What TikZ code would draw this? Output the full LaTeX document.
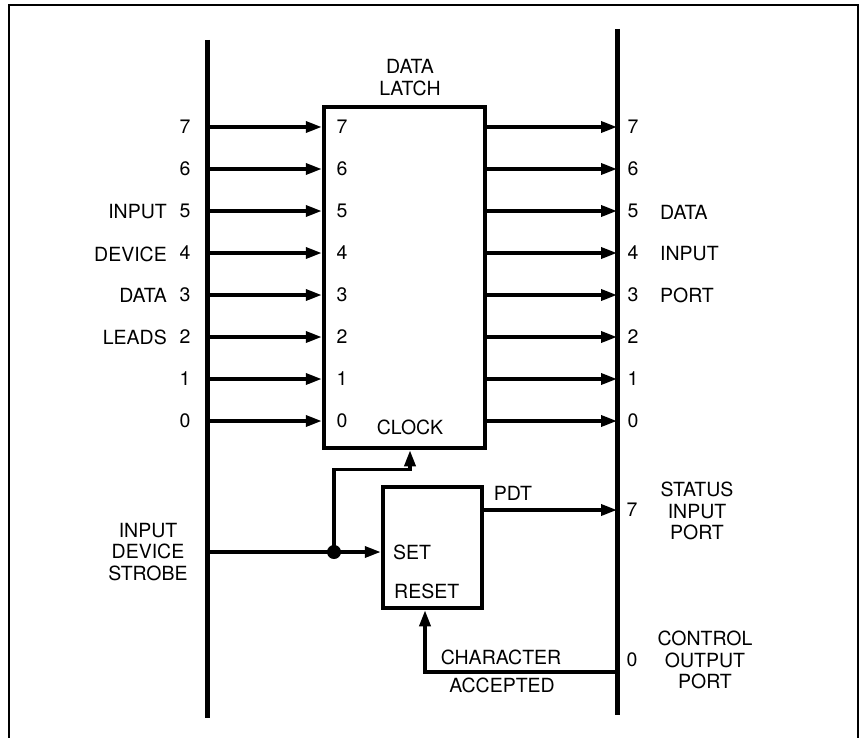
\documentclass[tikz,border=0pt]{standalone}
\usepackage{fontspec}
\setmainfont{TeX Gyre Heros}
\usetikzlibrary{arrows.meta,positioning,calc}

\tikzset{
	bus/.style={line width=5pt},
	wire/.style={line width=3.5pt, ->},
	block/.style={draw, line width=4.5pt, rectangle},
}

\begin{document}
\begin{tikzpicture}[x=1pt, y=-1pt, >={Triangle[length=16pt,width=11pt]}, font=\fontsize{19.5}{21.5}\selectfont, every node/.style={inner sep=0pt}]
		\useasboundingbox (0,0) rectangle (861,738);
		% frame
		\draw[line width=2.5pt] (9,738) |- (858,5) -- (858,738);
		% buses
		\coordinate (LT) at (207,40);
		\coordinate (LB) at (207,718);
		\coordinate (RT) at (617,29);
		\coordinate (RB) at (617,715);
		\draw[bus] (LT) -- (LB);
		\draw[bus] (RT) -- (RB);
		% data latch
		\node[block, minimum width=161pt, minimum height=341pt] (latch) at (404.5,277.5) {};
		\node[align=center] (title) at (410,77.5) {DATA\\LATCH};
		\node (clock) at (410,427) {CLOCK};
		\foreach \b in {0,...,7} {
			\coordinate (L\b) at (207,421-42*\b);
			\coordinate (R\b) at (617,421-42*\b);
			\draw[wire] (L\b) -- (L\b -| latch.west);
			\draw[wire] (L\b -| latch.east) -- (R\b);
			\node (li\b) at (185,421-42*\b) {\b};
			\node (lb\b) at (342,421-42*\b) {\b};
			\node (ro\b) at (633,421-42*\b) {\b};
		}
		\node[anchor=east] (inp) at (167,212) {INPUT};
		\node[anchor=east] (dev) at (167,254) {DEVICE};
		\node[anchor=east] (dat) at (167,295) {DATA};
		\node[anchor=east] (lea) at (167,337) {LEADS};
		\node[anchor=west] (pdat) at (660,212) {DATA};
		\node[anchor=west] (pinp) at (660,254) {INPUT};
		\node[anchor=west] (ppor) at (660,295) {PORT};
		% flag flip-flop
		\node[block, minimum width=99pt, minimum height=121pt] (ff) at (432.5,547.5) {};
		\node[anchor=west] (set) at (393,552) {SET};
		\node[anchor=west] (reset) at (394,591) {RESET};
		\coordinate (stb) at (207,552);
		\node[circle, fill, minimum size=14pt] (dot) at (334,552) {};
		\node[align=center] (strobe) at (148,552) {INPUT\\DEVICE\\STROBE};
		\draw[wire] (stb) -- (stb -| ff.west);
		\coordinate (clk) at ([xshift=5.5pt]latch.south);
		\draw[wire] (dot.center) |- ([yshift=-19pt]clk) -- (clk);
		% status port
		\coordinate (st7) at (617,510);
		\draw[wire] (st7 -| ff.east) -- (st7);
		\node (pdt) at (513,493) {PDT};
		\node (st7n) at (632,510) {7};
		\node[align=center] (status) at (697,511) {STATUS\\INPUT\\PORT};
		% control port
		\coordinate (co0) at (617,672);
		\coordinate (rst) at ([xshift=-7.5pt]ff.south);
		\draw[wire] (co0) -| (rst);
		\node (chr) at (501,657) {CHARACTER};
		\node (acc) at (502,685) {ACCEPTED};
		\node (co0n) at (632,660) {0};
		\node[align=center] (control) at (705,660) {CONTROL\\OUTPUT\\PORT};
	\end{tikzpicture}
\end{document}
